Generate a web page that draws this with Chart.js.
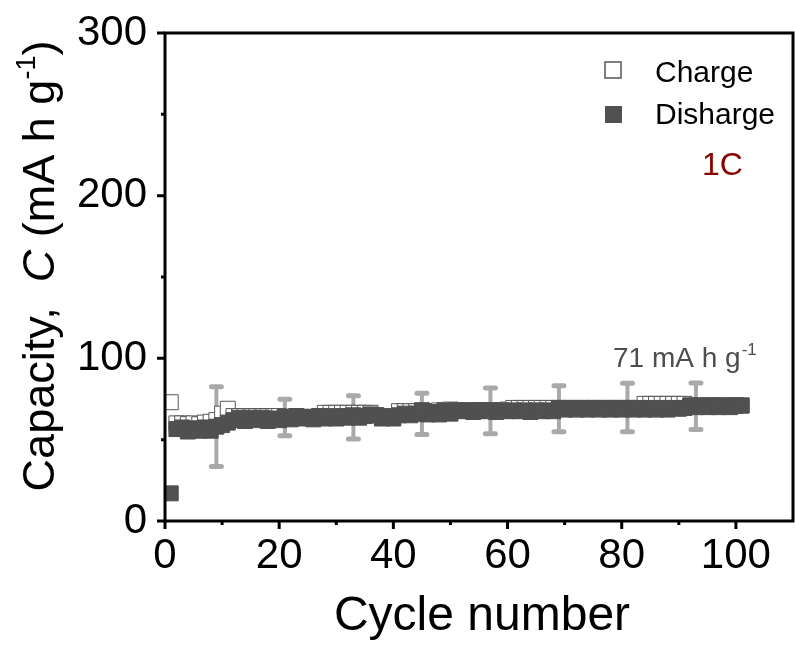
<!DOCTYPE html>
<html>
<head>
<meta charset="utf-8">
<script src="https://cdn.jsdelivr.net/npm/chart.js@4.4.1/dist/chart.umd.min.js"></script>
<style>
  html, body { margin: 0; padding: 0; background: #fff; }
  #wrap { width: 795px; height: 648px; }
</style>
</head>
<body>
<div id="wrap"><canvas id="cap" width="795" height="648"></canvas></div>
<script>
// cycle numbers 1..101
var cycles = [];
for (var i = 1; i <= 101; i++) cycles.push(i);

// (mA h g-1)
var charge = [
  73, 60, 60, 59.5, 60, 59.5, 60.5, 61, 62, 66,
  69, 64.5, 64.5, 64.5, 64.5, 64.5, 64.5, 64.5, 64.5, 64.5,
  64, 64, 64.5, 64, 64, 63.5, 64.5, 66.5, 66.5, 66.5,
  66.5, 66.5, 66.5, 66.5, 66.5, 66.5, 65, 64.5, 64.5, 64.5,
  67.5, 67.5, 67.5, 67.5, 68, 67.5, 67.5, 68, 68, 68.5,
  68, 68, 68, 68, 68, 68, 68, 68, 68, 68.5,
  69.5, 69.5, 69.5, 69.5, 69.5, 69.5, 69.5, 69.5, 69.5, 69.5,
  69.5, 69.5, 69.5, 69.5, 69.5, 69.5, 69.5, 69.5, 69.5, 69.5,
  69.5, 69.5, 69.5, 72, 72, 72, 72, 72, 72, 72,
  72, 71, 71, 71, 71, 71, 71, 71, 71, 71,
  71
];
var discharge = [
  17, 56.5, 57.5, 55, 57, 55.5, 57.5, 55.5, 58, 59,
  60.5, 62, 63.5, 61.5, 63.5, 62, 63.5, 61.5, 63, 62,
  64, 62.5, 64.5, 63, 64, 62.5, 64.5, 63, 64.5, 63,
  64.5, 63.5, 65, 63.5, 64.5, 65.5, 65, 63, 64, 63,
  65, 66, 65, 66, 68, 65.5, 67, 65.5, 68, 66,
  68, 67.5, 68, 67, 68, 67.5, 68, 67, 68, 67.5,
  68, 67.5, 68, 67, 68, 67.5, 68, 67.5, 69.5, 68.5,
  69.5, 68.5, 69.5, 68.5, 69.5, 68.5, 69.5, 68.5, 69.5, 68.5,
  69.5, 68.5, 69.5, 68.5, 69.5, 68.5, 69.5, 68.5, 69.5, 69,
  69.5, 71, 70, 71, 70, 71, 70, 71, 70, 71,
  71
];

// error bars
var errCycles = [9, 21, 33, 45, 57, 69, 81, 93];
var errMean = [58, 63.6, 63.7, 65.9, 67.7, 69, 69.8, 70.6];
var errHalf = [24.5, 11.2, 13.3, 12.7, 14, 14.2, 14.9, 14.3];

var xMajor = [0, 20, 40, 60, 80, 100];
var xMinor = [10, 30, 50, 70, 90];
var yMajor = [0, 100, 200, 300];
var yMinor = [50, 150, 250];

var FONT = '"Liberation Sans", Arial, sans-serif';

function pts(ys) {
  return cycles.map(function (c, i) { return { x: c, y: ys[i] }; });
}

var errorBars = {
  id: 'errorBars',
  beforeDatasetsDraw: function (chart) {
    var ctx = chart.ctx, xs = chart.scales.x, ys = chart.scales.y;
    ctx.save();
    ctx.strokeStyle = '#a9a9a9';
    ctx.lineCap = 'round';
    for (var i = 0; i < errCycles.length; i++) {
      var px = xs.getPixelForValue(errCycles[i]);
      var top = ys.getPixelForValue(errMean[i] + errHalf[i]);
      var bot = ys.getPixelForValue(errMean[i] - errHalf[i]);
      ctx.lineWidth = 4;
      ctx.beginPath();
      ctx.moveTo(px, top); ctx.lineTo(px, bot);
      ctx.stroke();
      ctx.lineWidth = 5;
      ctx.beginPath();
      ctx.moveTo(px - 5, top); ctx.lineTo(px + 5, top);
      ctx.moveTo(px - 5, bot); ctx.lineTo(px + 5, bot);
      ctx.stroke();
    }
    ctx.restore();
  }
};

var frameAndText = {
  id: 'frameAndText',
  afterDraw: function (chart) {
    var ctx = chart.ctx, a = chart.chartArea;
    var xs = chart.scales.x, ys = chart.scales.y;
    ctx.save();
    // frame
    ctx.strokeStyle = '#000';
    ctx.lineWidth = 3;
    ctx.strokeRect(a.left, a.top, a.right - a.left, a.bottom - a.top);
    // ticks
    ctx.lineWidth = 3;
    ctx.beginPath();
    xMajor.forEach(function (v) {
      var p = xs.getPixelForValue(v);
      ctx.moveTo(p, a.bottom); ctx.lineTo(p, a.bottom + 8);
    });
    xMinor.forEach(function (v) {
      var p = xs.getPixelForValue(v);
      ctx.moveTo(p, a.bottom); ctx.lineTo(p, a.bottom + 4);
    });
    yMajor.forEach(function (v) {
      var p = ys.getPixelForValue(v);
      ctx.moveTo(a.left, p); ctx.lineTo(a.left - 8, p);
    });
    yMinor.forEach(function (v) {
      var p = ys.getPixelForValue(v);
      ctx.moveTo(a.left, p); ctx.lineTo(a.left - 4, p);
    });
    ctx.stroke();

    // x title
    ctx.fillStyle = '#000';
    ctx.textAlign = 'center';
    ctx.textBaseline = 'alphabetic';
    ctx.font = '48px ' + FONT;
    ctx.fillText('Cycle number', 482, 630);

    // y title, rotated
    ctx.save();
    ctx.translate(54, 266);
    ctx.rotate(-Math.PI / 2);
    var parts = [
      { t: 'Capacity,  ', f: '45px ' + FONT, dy: 0 },
      { t: 'C', f: 'italic 45px ' + FONT, dy: 0 },
      { t: ' (mA h g', f: '45px ' + FONT, dy: 0 },
      { t: '-1', f: '27px ' + FONT, dy: -19 },
      { t: ')', f: '45px ' + FONT, dy: 0 }
    ];
    var total = 0;
    parts.forEach(function (p) { ctx.font = p.f; p.w = ctx.measureText(p.t).width; total += p.w; });
    var x = -total / 2;
    ctx.textAlign = 'left';
    parts.forEach(function (p) { ctx.font = p.f; ctx.fillText(p.t, x, p.dy); x += p.w; });
    ctx.restore();

    // legend
    ctx.fillStyle = '#fff';
    ctx.strokeStyle = '#555';
    ctx.lineWidth = 1.5;
    ctx.fillRect(605, 62, 16, 16);
    ctx.strokeRect(605, 62, 16, 16);
    ctx.fillStyle = '#505050';
    ctx.fillRect(605, 106, 17, 17);
    ctx.fillStyle = '#000';
    ctx.textAlign = 'left';
    ctx.font = '30px ' + FONT;
    ctx.fillText('Charge', 655, 82);
    ctx.fillText('Disharge', 655, 124);

    ctx.fillStyle = '#8b0000';
    ctx.font = '32px ' + FONT;
    ctx.fillText('1C', 702, 175);

    // annotation
    ctx.fillStyle = '#4d4d4d';
    ctx.font = '28px ' + FONT;
    ctx.fillText('71 mA h g', 613, 367);
    var w = ctx.measureText('71 mA h g').width;
    ctx.font = '17px ' + FONT;
    ctx.fillText('-1', 613 + w + 1, 355);
    ctx.restore();
  }
};

function noPad(s) {
  s.paddingLeft = 0; s.paddingRight = 0;
  s.paddingTop = 0; s.paddingBottom = 0;
}

new Chart(document.getElementById('cap'), {
  type: 'scatter',
  data: {
    datasets: [
      {
        label: 'Charge',
        data: pts(charge),
        order: 2,
        pointStyle: 'rect',
        pointRadius: 10.6,
        pointBackgroundColor: '#ffffff',
        pointBorderColor: '#555555',
        pointBorderWidth: 1
      },
      {
        label: 'Disharge',
        data: pts(discharge),
        order: 1,
        pointStyle: 'rect',
        pointRadius: 10.6,
        pointBackgroundColor: '#505050',
        pointBorderColor: '#505050',
        pointBorderWidth: 1
      }
    ]
  },
  options: {
    responsive: false,
    animation: false,
    layout: { autoPadding: false, padding: { left: 0, top: 33, right: 2, bottom: 0 } },
    plugins: { legend: { display: false }, tooltip: { enabled: false } },
    scales: {
      x: {
        type: 'linear', min: 0, max: 110,
        afterFit: function (s) { s.height = 127; noPad(s); },
        grid: { display: false, drawTicks: false },
        border: { display: false },
        ticks: {
          stepSize: 20, includeBounds: false, autoSkip: false, maxRotation: 0,
          padding: 10, color: '#000', font: { family: FONT, size: 42 }
        }
      },
      y: {
        min: 0, max: 300,
        afterFit: function (s) { s.width = 165; noPad(s); },
        grid: { display: false, drawTicks: false },
        border: { display: false },
        ticks: {
          stepSize: 100, padding: 18, color: '#000', font: { family: FONT, size: 42 }
        }
      }
    }
  },
  plugins: [errorBars, frameAndText]
});
</script>
</body>
</html>
